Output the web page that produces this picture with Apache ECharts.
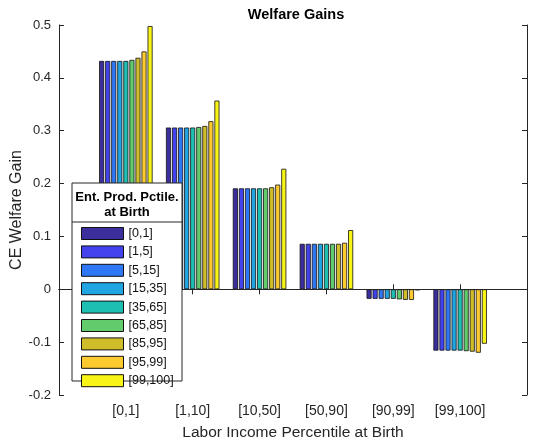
<!DOCTYPE html>
<html><head><meta charset="utf-8">
<script src="https://cdn.jsdelivr.net/npm/echarts@6/dist/echarts.min.js"></script>
<style>html,body{margin:0;padding:0;background:#fff}#c{width:533px;height:443px}</style>
</head><body><div id="c"></div>
<script>
const categories = ['[0,1]', '[1,10]', '[10,50]', '[50,90]', '[90,99]', '[99,100]'];
const seriesNames = ['[0,1]', '[1,5]', '[5,15]', '[15,35]', '[35,65]', '[65,85]', '[85,95]', '[95,99]', '[99,100]'];
const colors = ['#3b2f9e', '#4343ee', '#2e77f6', '#1ea5e2', '#1ebfb3', '#62cc6c', '#cfbe2a', '#fdca2f', '#f8f516'];
// values per income group (rows), each with one value per productivity percentile series
const g0_1    = [0.432, 0.432, 0.432, 0.432, 0.432, 0.434, 0.438, 0.450, 0.498];
const g1_10   = [0.306, 0.306, 0.306, 0.306, 0.306, 0.307, 0.309, 0.318, 0.357];
const g10_50  = [0.191, 0.191, 0.191, 0.191, 0.191, 0.191, 0.193, 0.198, 0.228];
const g50_90  = [0.086, 0.086, 0.086, 0.086, 0.086, 0.086, 0.086, 0.088, 0.112];
const g90_99  = [-0.018, -0.018, -0.018, -0.018, -0.018, -0.019, -0.020, -0.020, -0.002];
const g99_100 = [-0.116, -0.116, -0.116, -0.116, -0.116, -0.117, -0.118, -0.120, -0.103];
const yTicks = [-0.2, -0.1, 0, 0.1, 0.2, 0.3, 0.4, 0.5];

const groups = [g0_1, g1_10, g10_50, g50_90, g90_99, g99_100];
const xData = [''].concat(categories, ['']);
const font = 'Liberation Sans, Arial, Helvetica, sans-serif';
const axisColor = '#262626';

const series = seriesNames.map((name, s) => {
  const d = ['-'].concat(groups.map(g => g[s]), ['-']);
  const ser = {
    name, type: 'bar', data: d, barGap: '20%', barCategoryGap: '20%',
    itemStyle: { color: colors[s], borderColor: '#111', borderWidth: 0.8 },
    emphasis: { disabled: true }, animation: false
  };
  if (s === 0) {
    ser.markLine = {
      silent: true, symbol: 'none', animation: false,
      label: { show: false },
      lineStyle: { color: axisColor, width: 1, type: 'solid' },
      data: [{ yAxis: 0 }]
    };
  }
  return ser;
});

const chart = echarts.init(document.getElementById('c'), null, { renderer: 'canvas' });
const tickInt = (i) => i > 0 && i < xData.length - 1;
chart.setOption({
  animation: false,
  backgroundColor: '#fff',
  title: {
    text: 'Welfare Gains', left: 291, top: 2, textAlign: 'center',
    textStyle: { fontFamily: font, fontSize: 14.5, fontWeight: 'bold', color: '#000' }
  },
  grid: { left: 59, right: 6, top: 25, bottom: 48, containLabel: false, outerBoundsMode: 'none' },
  xAxis: [{
    type: 'category', data: xData, boundaryGap: false, position: 'bottom',
    name: 'Labor Income Percentile at Birth', nameLocation: 'middle', nameGap: 30, nameMoveOverlap: false,
    nameTextStyle: { fontFamily: font, fontSize: 15.5, color: axisColor },
    axisLine: { lineStyle: { color: axisColor, width: 1 } },
    axisTick: { inside: true, length: 5, interval: (i) => tickInt(i), lineStyle: { color: axisColor } },
    axisLabel: { fontFamily: font, fontSize: 14, color: axisColor, margin: 9, interval: 0 },
    splitLine: { show: false }
  }, {
    type: 'category', data: xData, boundaryGap: false, position: 'top',
    axisLine: { lineStyle: { color: axisColor, width: 1 } },
    axisTick: { inside: true, length: 5, interval: (i) => tickInt(i), lineStyle: { color: axisColor } },
    axisLabel: { show: false }, splitLine: { show: false }
  }],
  yAxis: [{
    type: 'value', min: yTicks[0], max: yTicks[yTicks.length - 1], interval: 0.1,
    name: 'CE Welfare Gain', nameLocation: 'middle', nameGap: 34, nameMoveOverlap: false,
    nameTextStyle: { fontFamily: font, fontSize: 16, color: axisColor },
    axisLine: { show: true, lineStyle: { color: axisColor, width: 1 } },
    axisTick: { show: true, inside: true, length: 5, lineStyle: { color: axisColor } },
    axisLabel: { fontFamily: font, fontSize: 13, color: axisColor, margin: 8,
      formatter: (v) => { const r = Math.round(v * 10) / 10; return r === 0 ? '0' : r.toFixed(1); } },
    splitLine: { show: false }
  }, {
    type: 'value', min: yTicks[0], max: yTicks[yTicks.length - 1], interval: 0.1, position: 'right',
    axisLine: { show: true, lineStyle: { color: axisColor, width: 1 } },
    axisTick: { show: true, inside: true, length: 5, lineStyle: { color: axisColor } },
    axisLabel: { show: false }, splitLine: { show: false }
  }],
  legend: {
    orient: 'vertical', left: 81, top: 227, padding: 0, itemGap: 5.4, icon: 'rect',
    itemWidth: 42, itemHeight: 12, itemStyle: { borderColor: '#111', borderWidth: 1 },
    textStyle: { fontFamily: font, fontSize: 12.5, color: '#111', lineHeight: 12 },
    data: seriesNames, selectedMode: false, z: 20
  },
  graphic: [
    { type: 'rect', z: 10, shape: { x: 72, y: 183, width: 110, height: 198 },
      style: { fill: '#fff', stroke: axisColor, lineWidth: 1 } },
    { type: 'line', z: 11, shape: { x1: 72, y1: 222, x2: 182, y2: 222 },
      style: { stroke: axisColor, lineWidth: 1 } },
    { type: 'text', z: 11, x: 127, y: 197,
      style: { text: 'Ent. Prod. Pctile.', textAlign: 'center', textVerticalAlign: 'middle',
        font: 'bold 13px ' + font, fill: '#000' } },
    { type: 'text', z: 11, x: 127, y: 212,
      style: { text: 'at Birth', textAlign: 'center', textVerticalAlign: 'middle',
        font: 'bold 13px ' + font, fill: '#000' } }
  ],
  series
});
</script></body></html>
